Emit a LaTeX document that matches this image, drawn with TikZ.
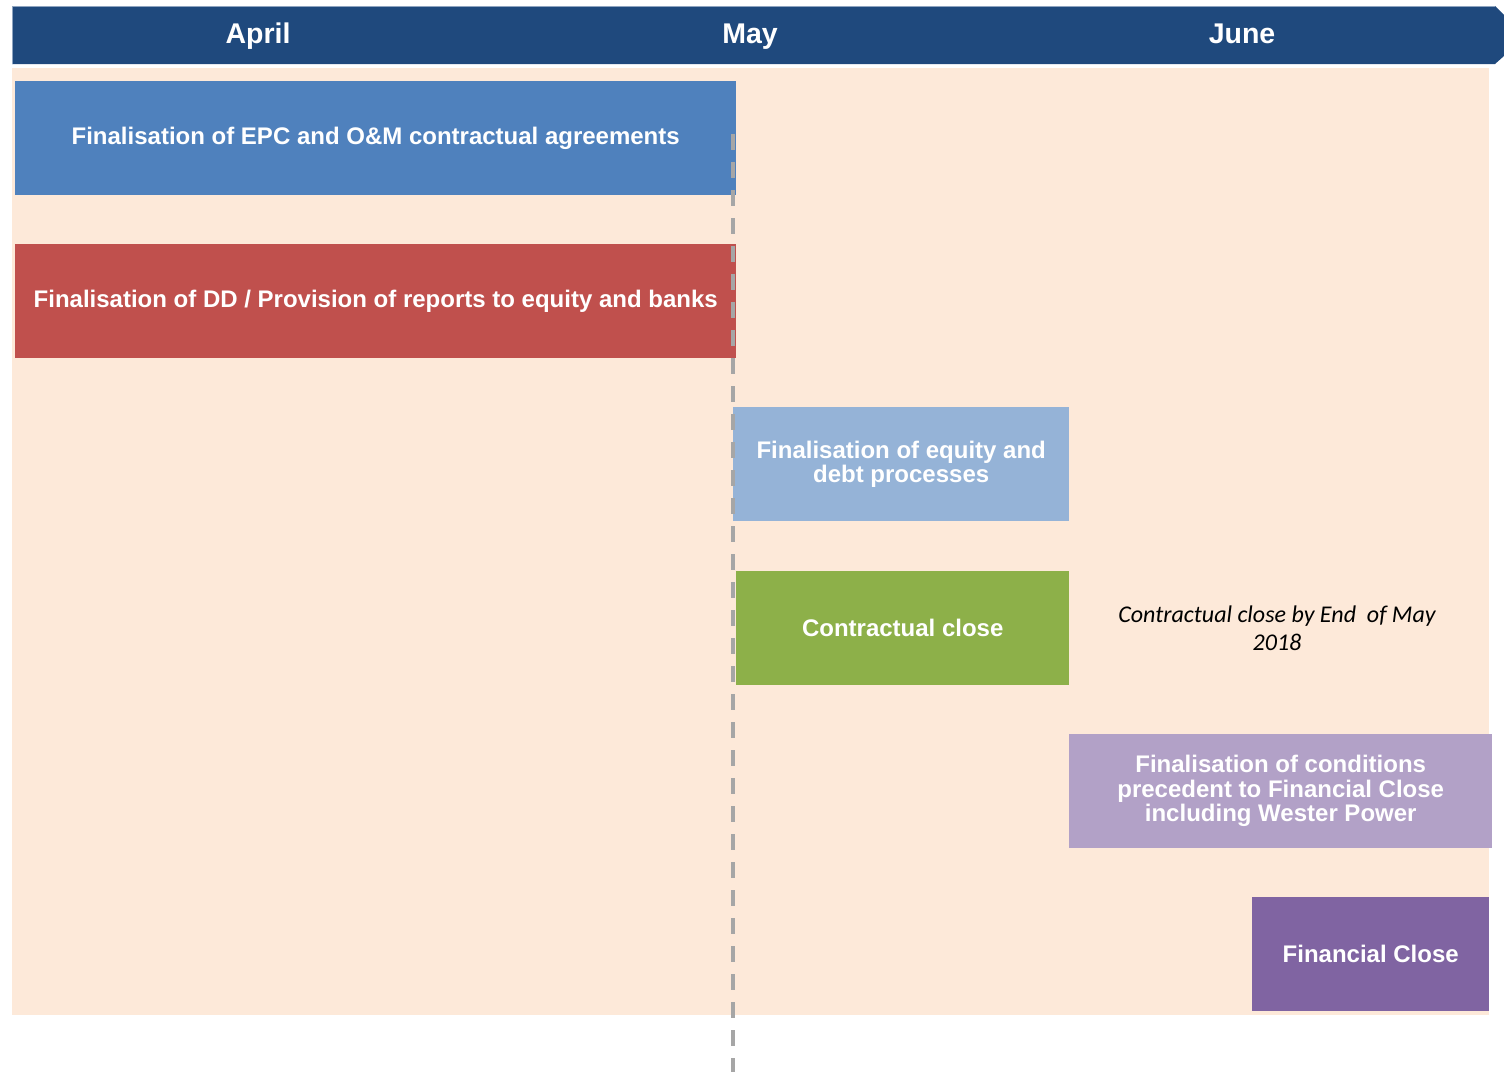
\documentclass[tikz,border=0pt]{standalone}
\usepackage{fontspec}
\setmainfont{Liberation Sans}
\newfontfamily\calibri{Carlito}
\definecolor{hdr}{HTML}{1F497D}
\definecolor{hdrline}{HTML}{8EA4C0}
\definecolor{peach}{HTML}{FDE9D9}
\definecolor{cblue}{HTML}{4F81BD}
\definecolor{cred}{HTML}{C0504D}
\definecolor{clblue}{HTML}{95B3D7}
\definecolor{cgreen}{HTML}{8DB049}
\definecolor{clav}{HTML}{B2A1C7}
\definecolor{cpurp}{HTML}{8064A2}
\definecolor{dashgray}{HTML}{A6A6A6}
\begin{document}
\begin{tikzpicture}[x=1pt,y=-1pt,
  taskbox/.style={fill=#1, draw=none, anchor=north west, inner sep=0pt,
    text=white, font=\bfseries\fontsize{24}{24.5}\selectfont, align=center},
  month/.style={text=white, anchor=base, font=\bfseries\fontsize{28.5}{30}\selectfont},
  note/.style={text=black, font=\calibri\itshape\fontsize{24}{28}\selectfont, align=center}]
\useasboundingbox (0,0) rectangle (1504,1071);
% header bar
\fill[hdr] (12,6) -- (1495,6) -- (1504,15) -- (1504,56) -- (1495,64) -- (12,64) -- cycle;
\draw[hdrline, line width=0.8pt] (12,64) -- (12,6.4) -- (1495,6.4);
\node[month] (apr) at (258,43) {April};
\node[month] (may) at (750,43) {May};
\node[month] (jun) at (1242,43) {June};
% background
\fill[peach] (12,68) rectangle (1489,1015);
% tasks
\node[taskbox=cblue, minimum width=721pt, minimum height=114pt] (t1) at (15,81)
  {Finalisation of EPC and O\&M contractual agreements};
\node[taskbox=cred, minimum width=721pt, minimum height=114pt] (t2) at (15,244)
  {Finalisation of DD / Provision of reports to equity and banks};
\node[taskbox=clblue, minimum width=336pt, minimum height=114pt] (t3) at (733,407)
  {Finalisation of equity and\\debt processes};
\node[taskbox=cgreen, minimum width=333pt, minimum height=114pt] (t4) at (736,571)
  {Contractual close};
\node[taskbox=clav, minimum width=423pt, minimum height=114pt] (t5) at (1069,734)
  {Finalisation of conditions\\precedent to Financial Close\\including Wester Power};
\node[taskbox=cpurp, minimum width=237pt, minimum height=114pt] (t6) at (1252,897)
  {Financial Close};
\node[note] (n1) at (1277,628) {Contractual close by End~ of May\\2018};
% dashed milestone line
\coordinate (ltop) at (733,134);
\coordinate (lbot) at (733,1075);
\draw[dashgray, line width=3.5pt, dash pattern=on 16pt off 12pt] (ltop) -- (lbot);
\end{tikzpicture}
\end{document}
